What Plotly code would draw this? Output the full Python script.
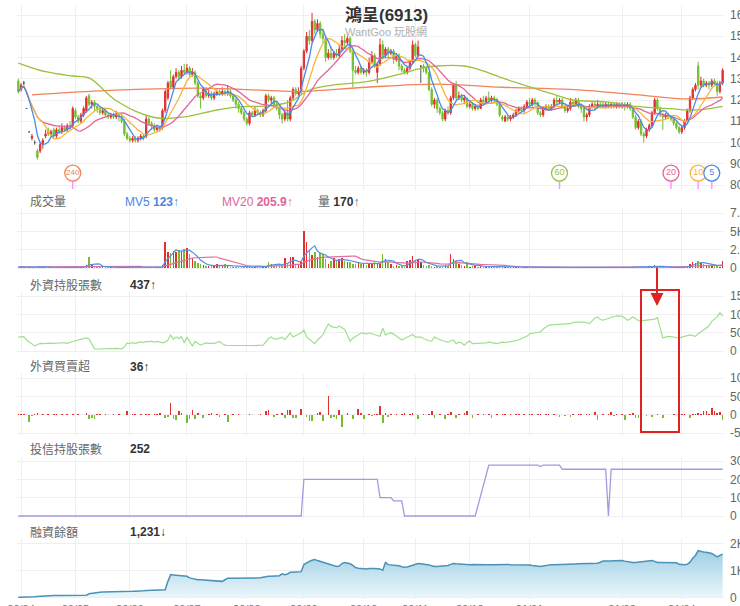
import pandas as pd
import plotly.graph_objects as go

W, H = 740, 606

# ---------------- data ----------------
opens = [
    129,125,128,116,105,102,100,96,96,99,
    103,106,104,106,103,106,105,107,106,108,
    108,115,112,110,113,115,122,118,119,117,
    116,114,115,113,112,113,112,113,112,110,
    104,102,101,102,101,102,103,103,111,109,
    108,106,107,107,115,121,129,126,131,133,
    131,134,133,135,132,133,128,122,121,125,
    122,123,121,123,124,123,124,123,124,122,
    120,118,116,114,111,109,114,113,115,114,
    113,115,122,120,121,118,116,113,111,114,
    111,121,125,123,124,135,143,150,148,157,
    153,156,151,149,140,142,140,142,141,144,
    148,147,149,143,134,133,135,133,134,133,
    138,141,133,137,146,141,144,142,143,139,
    141,136,134,133,135,138,146,141,136,136,
    135,133,125,118,120,116,114,111,115,114,
    121,127,121,122,120,121,117,118,116,117,
    116,120,119,121,120,121,120,118,112,110,
    112,111,112,113,115,116,115,117,119,118,
    120,119,114,113,116,117,116,117,120,119,
    120,117,115,116,119,118,120,117,116,112,
    113,117,118,117,118,118,117,118,117,118,
    117,118,117,118,117,118,116,112,107,110,
    104,103,106,108,114,120,116,113,112,113,
    112,111,109,107,105,107,110,115,121,125,
    136,127,129,127,128,127,129,128,124,128,
]
highs = [
    130,128,129,116,105,104,101,97,100,102,
    106,107,106,107,107,108,109,108,109,110,
    117,116,113,114,117,122,123,120,120,118,
    117,116,116,114,114,114,115,114,113,111,
    105,103,103,103,103,104,104,113,112,110,
    109,108,108,116,125,129,134,132,135,134,
    136,137,137,136,135,134,129,123,126,126,
    125,124,124,125,125,126,125,127,125,123,
    121,119,117,115,112,115,115,117,116,115,
    116,123,123,122,122,119,117,114,115,120,
    122,126,126,126,136,144,152,153,161,158,
    158,157,153,150,144,145,143,144,146,150,
    151,150,150,144,136,136,136,135,135,140,
    143,142,138,149,148,145,145,144,144,142,
    142,137,135,136,139,148,147,148,136,137,
    136,133,126,121,121,117,115,116,117,122,
    128,129,124,123,122,121,119,119,118,118,
    121,122,122,124,122,122,121,119,113,113,
    113,113,114,116,117,117,118,120,121,121,
    121,119,115,117,118,118,118,121,122,121,
    121,118,117,121,120,121,121,118,117,114,
    118,119,119,120,119,119,119,119,119,119,
    119,119,119,119,119,119,117,113,111,111,
    105,107,109,115,121,121,117,114,114,114,
    113,112,110,108,108,111,116,122,126,128,
    138,131,130,129,129,130,130,129,129,135,
]
lows = [
    123,124,127,116,105,101,99,92,95,97,
    102,103,103,102,102,104,104,105,105,106,
    107,111,109,109,112,114,117,116,115,114,
    113,113,112,111,111,111,111,110,109,103,
    101,100,100,100,100,101,101,102,108,106,
    105,105,105,106,114,120,125,125,130,129,
    130,132,132,131,131,127,121,116,120,121,
    121,120,120,122,122,122,122,122,121,119,
    116,114,113,110,108,108,112,112,113,112,
    112,114,119,118,117,115,111,109,110,110,
    110,120,122,122,123,134,142,146,147,151,
    152,149,147,138,139,139,139,140,140,143,
    145,146,142,126,132,132,132,132,131,132,
    137,135,128,136,139,140,140,141,137,138,
    134,133,132,132,134,137,140,140,128,133,
    132,124,117,116,114,113,110,110,113,113,
    120,120,120,119,118,116,116,115,115,115,
    116,118,118,119,119,119,117,112,110,110,
    110,110,111,112,114,114,114,116,117,117,
    117,113,112,112,115,115,115,116,118,118,
    116,114,114,115,117,117,116,114,110,110,
    112,116,115,116,116,116,116,116,116,116,
    116,116,116,115,116,115,111,106,106,103,
    100,102,105,107,113,115,112,106,111,111,
    110,108,106,104,104,106,109,114,120,124,
    125,126,126,126,125,126,127,122,123,127,
]
closes = [
    124,127,128,116,105,103,100,93,99,101,
    104,104,105,103,106,105,107,106,108,107,
    116,112,110,113,116,121,118,119,117,116,
    114,115,113,112,113,112,113,112,110,104,
    102,101,102,101,102,103,102,111,109,108,
    106,107,106,115,124,128,126,131,133,131,
    134,133,135,132,133,128,122,121,125,122,
    123,121,123,124,123,124,123,124,122,120,
    118,116,114,111,109,114,113,115,114,113,
    115,122,120,121,118,116,113,111,114,111,
    121,125,123,124,135,143,150,148,157,153,
    156,151,149,140,142,140,142,141,144,148,
    147,149,143,134,133,135,133,134,133,138,
    141,136,137,146,141,144,142,143,139,141,
    136,134,133,135,138,146,141,145,136,135,
    133,125,118,120,116,114,111,115,114,121,
    127,121,122,120,121,117,118,116,117,116,
    120,119,121,120,121,120,118,113,111,112,
    111,112,113,115,116,115,117,119,118,120,
    119,114,113,116,117,116,117,120,119,120,
    117,115,116,119,118,120,117,116,112,113,
    117,118,117,118,117,117,118,117,118,117,
    118,117,118,117,118,116,112,107,110,104,
    103,106,108,114,120,116,113,112,113,112,
    111,109,107,105,107,110,115,121,125,127,
    127,129,127,128,127,129,128,124,128,134,
]
volumes = [
    150,120,80,60,90,200,150,250,180,120,
    100,90,80,110,90,70,60,90,80,70,
    160,90,80,70,100,350,1500,400,300,250,
    200,150,100,120,90,80,100,90,80,120,
    150,100,90,80,70,90,80,200,150,120,
    100,90,100,400,3600,2200,2100,2300,2200,2500,
    2300,2600,2700,1900,1300,1000,700,500,400,300,
    250,300,400,500,300,250,600,300,200,150,
    150,120,100,150,200,180,150,120,100,150,
    200,300,830,500,300,600,400,300,1300,600,
    1500,1500,370,400,830,5000,3600,2500,1800,2200,
    1500,2100,1900,1200,600,1000,1300,1100,1200,1300,
    1000,830,800,600,600,830,500,700,400,600,
    500,800,700,600,1950,1250,800,500,300,400,
    250,300,200,900,1100,1700,1000,1250,800,400,
    300,400,250,200,300,150,200,400,300,1950,
    1250,1000,600,400,300,800,200,300,250,200,
    300,200,150,200,100,150,120,250,150,200,
    100,150,120,80,100,90,120,100,80,150,
    100,120,90,80,70,100,90,120,80,100,
    90,80,120,100,80,70,90,80,150,120,
    100,80,70,90,60,80,70,60,80,70,
    90,80,70,60,80,150,200,180,150,200,
    150,120,100,300,400,200,150,120,100,90,
    80,100,120,100,90,150,300,600,800,700,
    1000,650,500,400,300,350,250,450,200,1000,
]
foreign_hold = [
    380,385,390,300,245,200,140,170,205,200,
    210,205,215,210,220,215,225,220,210,240,
    260,270,285,300,320,355,330,200,60,55,
    60,55,60,65,60,65,70,65,60,120,
    218,200,230,210,240,250,230,260,250,270,
    240,260,250,220,240,300,437,320,380,340,
    390,220,380,250,136,260,200,160,190,220,
    210,200,210,230,260,200,160,150,155,150,
    145,150,150,155,150,150,145,150,155,150,
    160,250,340,380,330,325,360,380,310,400,
    490,380,420,440,500,570,390,320,260,200,
    300,380,440,600,737,670,650,630,680,640,
    590,420,270,350,400,450,490,480,470,490,
    470,450,440,400,630,440,470,500,460,410,
    350,300,340,380,420,450,380,380,380,340,
    300,280,270,380,340,300,280,260,240,280,
    300,200,240,220,160,230,270,200,200,205,
    200,210,220,240,230,210,200,220,240,230,
    240,250,260,280,300,340,380,400,470,480,
    490,490,520,600,650,700,710,715,720,715,
    725,740,740,745,780,790,800,790,790,760,
    750,820,900,930,860,840,870,900,930,940,
    960,955,950,900,840,880,930,880,830,820,
    830,840,840,840,870,910,600,355,380,400,
    390,380,370,355,380,400,420,440,420,400,
    470,520,580,620,680,810,880,930,1040,950,
]
foreign_net = [
    1,2,1,0,-20,-3,2,4,-2,3,
    0,1,-1,2,1,0,2,-1,1,0,
    2,0,1,0,0,5,-13,-10,-12,2,
    1,0,1,-1,0,1,0,1,0,0,
    9,-2,1,2,0,1,0,2,1,-1,
    2,1,4,0,-8,-6,33,-13,-14,9,
    4,0,-22,-12,12,-13,4,0,-9,0,
    1,5,0,3,-6,0,1,-19,0,1,
    0,1,-1,0,0,1,0,-1,0,2,
    0,11,13,0,-5,2,0,5,-9,12,
    12,-9,-8,0,15,0,-5,-18,-17,0,
    4,8,-16,0,50,-9,-5,-12,12,-33,
    0,4,0,-12,0,15,5,-13,0,2,
    -3,2,1,25,-23,4,-5,3,0,2,
    -2,1,5,0,1,5,0,-12,0,2,
    0,1,9,-9,0,2,0,-11,1,6,
    0,-9,2,0,4,9,0,-9,0,1,
    0,2,0,1,-9,0,1,0,2,1,
    0,1,0,2,1,0,1,0,2,1,
    0,1,1,0,2,1,0,1,0,-5,
    0,-4,0,-5,1,0,2,1,0,2,
    1,0,7,-14,0,1,0,2,6,-3,
    1,0,2,-14,0,2,4,-9,-8,-9,
    0,-3,0,-6,0,2,0,-9,0,0,
    0,1,0,0,2,1,0,-9,2,3,
    4,2,9,11,3,19,9,4,6,-14,
]
_z = [0] * 105
trust_hold = (_z + [200] * 28 + [100] * 5 + [83] * 4 + [0] * 27
              + [None] * 4 + [277] * 19 + [270] + [278] * 7
              + [255] * 17 + [0] + [255] * 42)
margin_bal = [
    0,0,0,5,10,15,20,30,40,50,
    55,60,65,65,70,70,72,70,72,70,
    70,68,65,62,60,80,130,150,160,170,
    190,195,195,200,200,205,200,205,210,205,
    210,215,220,225,225,230,245,255,260,262,
    265,268,270,275,280,590,840,830,820,810,
    800,790,780,720,690,670,650,650,640,640,
    630,630,620,610,600,590,650,710,710,710,
    715,710,710,715,715,715,720,715,715,720,
    740,770,780,780,790,800,800,870,840,860,
    925,930,940,950,950,1210,1280,1330,1370,1400,
    1360,1330,1310,1280,1240,1210,1170,1140,1160,1250,
    1290,1270,1240,1180,1100,1080,1070,1060,1050,1070,
    1080,1070,1060,1050,1000,1290,1210,1200,1190,1180,
    1170,1130,1110,1120,1150,1180,1230,1250,1240,1230,
    1220,1200,1170,1140,1140,1150,1150,1160,1180,1220,
    1250,1240,1230,1220,1215,1210,1210,1215,1210,1210,
    1205,1210,1215,1210,1210,1215,1210,1210,1205,1210,
    1215,1210,1210,1205,1210,1215,1210,1210,1200,1180,
    1170,1160,1140,1160,1180,1200,1210,1210,1210,1215,
    1220,1220,1225,1230,1230,1235,1240,1240,1245,1245,
    1250,1250,1250,1260,1300,1340,1340,1330,1340,1350,
    1355,1360,1360,1340,1320,1300,1290,1290,1300,1310,
    1320,1330,1340,1360,1330,1290,1290,1290,1300,1290,
    1300,1290,1280,1220,1210,1210,1220,1300,1450,1550,
    1730,1700,1680,1670,1650,1620,1560,1500,1550,1600,
]
# long moving averages at a few bars
ma60_idx = [0, 10, 20, 26, 35, 43, 52, 62, 73, 82, 92, 100, 107, 115, 128, 141,
            148, 154, 164, 170, 179, 189, 196, 204, 216, 228, 240, 246, 252, 259]
ma60_val = [137.4, 133.3, 131.3, 130.4, 120.6, 114.8, 111.4, 112.2, 115.3, 116.9,
            117.2, 119.2, 124.7, 126.9, 128.6, 132.4, 134.9, 136.0, 136.0, 134.1,
            129.9, 125.8, 123.0, 120.0, 119.1, 116.9, 115.9, 115.3, 115.6, 117.0]
ma240_idx = [5, 30, 67, 91, 104, 128, 154, 178, 203, 228, 246, 259]
ma240_val = [122.4, 124.3, 125.6, 124.5, 124.0, 126.0, 127.5, 126.0, 125.0, 122.4, 120.5, 121.4]

badge_idx = [20, 199, 240, 250, 255]
badge_txt = ["240", "60", "20", "10", "5"]
badge_col = ["#f0845c", "#9cc13c", "#e2649b", "#f5b53a", "#4a89e6"]

month_idx = [1, 21, 41, 62, 84, 105, 127, 146, 166, 188, 222, 244]
month_txt = ["20/04", "20/05", "20/06", "20/07", "20/08", "20/09", "20/10",
             "20/11", "20/12", "21/01", "21/03", "21/04"]

# ---------------- derived ----------------
N = len(closes)
idx = list(range(N))
cs = pd.Series(closes, dtype=float)
ma5 = cs.rolling(5, min_periods=1).mean()
ma10 = cs.rolling(10, min_periods=1).mean()
ma20 = cs.rolling(20, min_periods=1).mean()
vs = pd.Series(volumes, dtype=float)
mv5 = vs.rolling(5, min_periods=1).mean()
mv20 = vs.rolling(20, min_periods=1).mean()

RED, GREEN, FLAT = "#e0312f", "#73bf2e", "#555555"
up = [i for i in idx if closes[i] > opens[i]]
dn = [i for i in idx if closes[i] < opens[i]]
fl = [i for i in idx if closes[i] == opens[i]]
vol_col = [RED if closes[i] > opens[i] else (GREEN if closes[i] < opens[i] else FLAT) for i in idx]
net_col = [RED if v >= 0 else GREEN for v in foreign_net]

fig = go.Figure()


def candle(sel, col, name):
    fig.add_trace(go.Candlestick(
        x=sel, open=[opens[i] for i in sel], high=[highs[i] for i in sel],
        low=[lows[i] for i in sel], close=[closes[i] for i in sel],
        increasing=dict(line=dict(color=col, width=1), fillcolor=col),
        decreasing=dict(line=dict(color=col, width=1), fillcolor=col),
        whiskerwidth=0, name=name, xaxis="x", yaxis="y"))


candle(up, RED, "up")
candle(dn, GREEN, "down")
candle(fl, FLAT, "flat")

fig.add_trace(go.Scatter(x=ma240_idx, y=ma240_val, mode="lines", line=dict(color="#f0845c", width=1.3, shape="spline"), xaxis="x", yaxis="y"))
fig.add_trace(go.Scatter(x=ma60_idx, y=ma60_val, mode="lines", line=dict(color="#9cc13c", width=1.3, shape="spline"), xaxis="x", yaxis="y"))
fig.add_trace(go.Scatter(x=idx, y=ma20, mode="lines", line=dict(color="#e2649b", width=1.3), xaxis="x", yaxis="y"))
fig.add_trace(go.Scatter(x=idx, y=ma10, mode="lines", line=dict(color="#f5b53a", width=1.3), xaxis="x", yaxis="y"))
fig.add_trace(go.Scatter(x=idx, y=ma5, mode="lines", line=dict(color="#4a89e6", width=1.3), xaxis="x", yaxis="y"))

# MA badges
fig.add_trace(go.Scatter(x=badge_idx, y=[80.4] * len(badge_idx), mode="markers",
                         marker=dict(symbol="line-ns-open", size=7, line=dict(color=badge_col, width=1.5)),
                         xaxis="x", yaxis="y"))
fig.add_trace(go.Scatter(x=badge_idx, y=[85.6] * len(badge_idx), mode="markers+text", text=badge_txt,
                         textposition="middle center",
                         textfont=dict(color=badge_col, size=[8, 9, 9, 9, 9], family="Liberation Sans"),
                         marker=dict(symbol="circle", size=16, color="white", line=dict(color=badge_col, width=1.3)),
                         xaxis="x", yaxis="y"))

# volume
fig.add_trace(go.Bar(x=idx, y=volumes, marker=dict(color=vol_col, line=dict(width=0)), width=0.55, xaxis="x2", yaxis="y2"))
fig.add_trace(go.Scatter(x=idx, y=mv20, mode="lines", line=dict(color="#e070a2", width=1.2), xaxis="x2", yaxis="y2"))
fig.add_trace(go.Scatter(x=idx, y=mv5, mode="lines", line=dict(color="#5b8fe3", width=1.2), xaxis="x2", yaxis="y2"))

# foreign holdings
fig.add_trace(go.Scatter(x=idx, y=foreign_hold, mode="lines", line=dict(color="#9ee08e", width=1.2), xaxis="x3", yaxis="y3"))
# foreign net buy/sell
fig.add_trace(go.Bar(x=idx, y=foreign_net, marker=dict(color=net_col, line=dict(width=0)), width=0.6, xaxis="x4", yaxis="y4"))
# trust holdings
fig.add_trace(go.Scatter(x=idx, y=trust_hold, mode="lines", connectgaps=True, line=dict(color="#a09ce0", width=1.3), xaxis="x5", yaxis="y5"))
# margin balance
fig.add_trace(go.Scatter(x=idx, y=margin_bal, mode="lines", fill="tozeroy",
                         fillgradient=dict(type="vertical", start=0, stop=1800,
                                           colorscale=[[0, "rgba(232,245,250,0.9)"], [1, "rgba(150,203,226,0.95)"]]),
                         line=dict(color="#4a92b8", width=1.5), xaxis="x6", yaxis="y6"))


# ---------------- layout ----------------
def dom(top, bot):
    return [1 - bot / H, 1 - top / H]


def rng(va, pa, vb, pb, top, bot):
    k = (va - vb) / (pb - pa)
    return [vb - (bot - pb) * k, va + (pa - top) * k]


panels = [
    # top_px, bot_px, (va, pa, vb, pb), tickvals, ticktext
    (5, 190, (160, 15, 80, 185), [80, 90, 100, 110, 120, 130, 140, 150, 160],
     ["80", "90", "100", "110", "120", "130", "140", "150", "160"]),
    (208, 270, (7500, 213, 0, 268), [0, 2500, 5000, 7500], ["0", "2.5K", "5K", "7.5K"]),
    (292, 353, (1500, 296, 0, 351), [0, 500, 1000, 1500], ["0", "500", "1000", "1500"]),
    (374, 435, (100, 378, -50, 433), [-50, 0, 50, 100], ["-50", "0", "50", "100"]),
    (457, 518, (300, 461, 0, 516), [0, 100, 200, 300], ["0", "100", "200", "300"]),
    (539, 599, (2000, 543.3, 0, 597.3), [0, 1000, 2000], ["0", "1K", "2K"]),
]

FONT = "Liberation Sans, Noto Sans CJK TC, sans-serif"
GRID = "#efefef"
xdom = [17 / W, 724 / W]
lay = dict(width=W, height=H, margin=dict(l=0, r=0, t=0, b=0, autoexpand=False), paper_bgcolor="white",
           plot_bgcolor="white", showlegend=False, bargap=0, barmode="overlay",
           font=dict(family=FONT, color="#555"), hovermode=False)
for k, (top, bot, ref, tv, tt) in enumerate(panels, start=1):
    sx = "" if k == 1 else str(k)
    lay["xaxis" + sx] = dict(domain=xdom, range=[-0.5, N - 0.5], anchor="y" + sx, showgrid=True, gridcolor=GRID,
                             gridwidth=1, tickvals=month_idx, ticktext=month_txt, showticklabels=(k == 6),
                             ticks="", zeroline=False, showline=False, fixedrange=True, automargin=False,
                             ticklabelstandoff=2,
                             tickfont=dict(size=11, color="#777"), rangeslider=dict(visible=False))
    lay["yaxis" + sx] = dict(domain=dom(top, bot), range=rng(*ref, top, bot), anchor="x" + sx, side="right",
                             tickvals=tv, ticktext=tt, showgrid=True, gridcolor=GRID, gridwidth=1,
                             zeroline=False, showline=False, ticks="", fixedrange=True, automargin=False,
                             ticklabelstandoff=5,
                             tickfont=dict(size=12, color="#666"))
fig.update_layout(**lay)


def label(x, y, text, size=12, color="#666"):
    fig.add_annotation(xref="paper", yref="paper", x=x / W, y=1 - y / H, text=text, showarrow=False,
                       xanchor="left", yanchor="middle", font=dict(size=size, color=color, family=FONT))


fig.add_annotation(xref="paper", yref="paper", x=386 / W, y=1 - 15 / H, text="<b>鴻呈(6913)</b>", showarrow=False,
                   xanchor="center", yanchor="middle", font=dict(size=17, color="#333", family=FONT))
fig.add_annotation(xref="paper", yref="paper", x=386 / W, y=1 - 32 / H, text="WantGoo 玩股網", showarrow=False,
                   xanchor="center", yanchor="middle", font=dict(size=11, color="#b0b0b0", family=FONT))

label(28, 202, "成交量")
label(123, 202, "MV5 <b>123</b>↑", color="#4a86e8")
label(220, 202, "MV20 <b>205.9</b>↑", color="#e0649b")
label(316, 202, "量 <b style='color:#333'>170</b>↑")
label(28, 285, "外資持股張數")
label(128, 285, "<b>437</b>↑", color="#333")
label(28, 367, "外資買賣超")
label(128, 367, "<b>36</b>↑", color="#333")
label(28, 449, "投信持股張數")
label(128, 449, "<b>252</b>", color="#333")
label(28, 532, "融資餘額")
label(128, 532, "<b>1,231</b>↓", color="#333")

# red highlight box and arrow
fig.add_shape(type="rect", xref="paper", yref="paper", x0=641 / W, x1=679 / W, y0=1 - 432 / H, y1=1 - 290 / H,
              line=dict(color="#e02222", width=2), fillcolor="rgba(0,0,0,0)")
fig.add_annotation(xref="paper", yref="paper", x=657 / W, y=1 - 306 / H, ax=0, ay=-40, text="", showarrow=True,
                   arrowhead=2, arrowsize=1.3, arrowwidth=2, arrowcolor="#e02222")

fig.write_html("out.html", config={"displayModeBar": False, "staticPlot": True},
               post_script="document.body.style.margin='0';document.body.style.overflow='hidden';")
